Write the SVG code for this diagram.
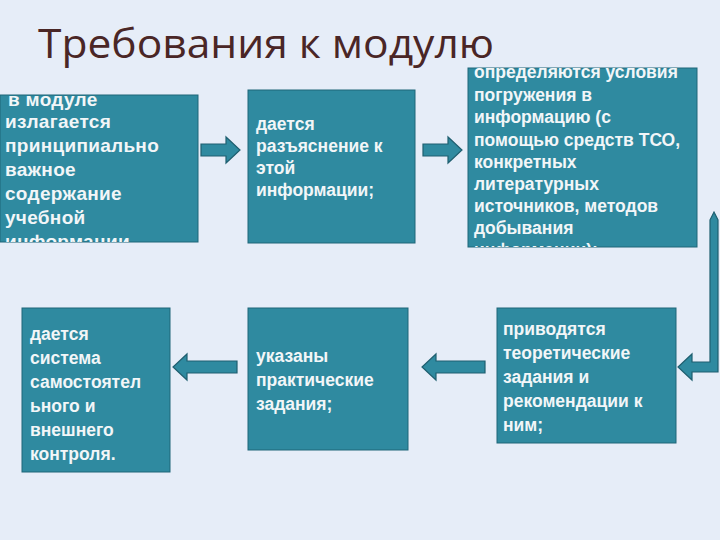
<svg xmlns="http://www.w3.org/2000/svg" width="720" height="540" viewBox="0 0 720 540">
<style>
.box{fill:#2f8aa0;stroke:#1f6678;stroke-width:1}
.t{font-family:"Liberation Sans",Arial,sans-serif;font-weight:bold;fill:#f2f6f8;font-size:19px;letter-spacing:0.3px}
.s{font-size:17.5px;letter-spacing:0}
.ar{fill:#2f8aa0;stroke:#1f5f70;stroke-width:1.2}
</style>
<defs>
<clipPath id="c1"><rect x="0" y="95" width="198" height="147"/></clipPath>
<clipPath id="c3"><rect x="468" y="68" width="229" height="179"/></clipPath>
</defs>
<rect width="720" height="540" fill="#e6edf8"/>
<text x="38" y="58" font-family="'Open Sans','DejaVu Sans',sans-serif" font-size="40" fill="#4a2626" textLength="456" lengthAdjust="spacingAndGlyphs">Требования к модулю</text>
<g id="n1"><rect class="box" x="0" y="95" width="198" height="147"/>
<text class="t" clip-path="url(#c1)"><tspan x="8" y="106">в модуле</tspan><tspan x="5" y="128">излагается</tspan><tspan x="5" y="152">принципиально</tspan><tspan x="5" y="176">важное</tspan><tspan x="5" y="200">содержание</tspan><tspan x="5" y="224">учебной</tspan><tspan x="5" y="248">информации</tspan></text></g>
<g id="n2"><rect class="box" x="248" y="90" width="167" height="153"/>
<text class="t s"><tspan x="256" y="130">дается</tspan><tspan x="256" y="152">разъяснение к</tspan><tspan x="256" y="174">этой</tspan><tspan x="256" y="196">информации;</tspan></text></g>
<g id="n3"><rect class="box" x="468" y="68" width="229" height="179"/>
<text class="t s" clip-path="url(#c3)"><tspan x="474" y="78">определяются условия</tspan><tspan x="474" y="101">погружения в</tspan><tspan x="474" y="123">информацию (с</tspan><tspan x="474" y="146">помощью средств ТСО,</tspan><tspan x="474" y="168">конкретных</tspan><tspan x="474" y="190">литературных</tspan><tspan x="474" y="212">источников, методов</tspan><tspan x="474" y="234">добывания</tspan><tspan x="474" y="256">информации);</tspan></text></g>
<g id="n4"><rect class="box" x="22" y="308" width="148" height="164"/>
<text class="t s"><tspan x="30" y="340">дается</tspan><tspan x="30" y="364">система</tspan><tspan x="30" y="388">самостоятел</tspan><tspan x="30" y="412">ьного и</tspan><tspan x="30" y="436">внешнего</tspan><tspan x="30" y="460">контроля.</tspan></text></g>
<g id="n5"><rect class="box" x="248" y="308" width="160" height="142"/>
<text class="t s"><tspan x="256" y="362">указаны</tspan><tspan x="256" y="386">практические</tspan><tspan x="256" y="410">задания;</tspan></text></g>
<g id="n6"><rect class="box" x="497" y="308" width="179" height="135"/>
<text class="t s"><tspan x="503" y="335">приводятся</tspan><tspan x="503" y="359">теоретические</tspan><tspan x="503" y="383">задания и</tspan><tspan x="503" y="407">рекомендации к</tspan><tspan x="503" y="431">ним;</tspan></text></g>
<g id="connectors">
<path class="ar" d="M201,144 H226 V137 L240,150 L226,163 V156 H201 Z"/>
<path class="ar" d="M423,144 H448 V137 L462,150 L448,163 V156 H423 Z"/>
<path class="ar" d="M237,361 H187 V354 L173,367 L187,380 V373 H237 Z"/>
<path class="ar" d="M485,361 H436 V354 L422,367 L436,380 V373 H485 Z"/>
<path class="ar" d="M710,220 L714,212 L718,220 V372 H692 V380 L678,367 L692,354 V362 H710 Z"/>
</g>
</svg>
